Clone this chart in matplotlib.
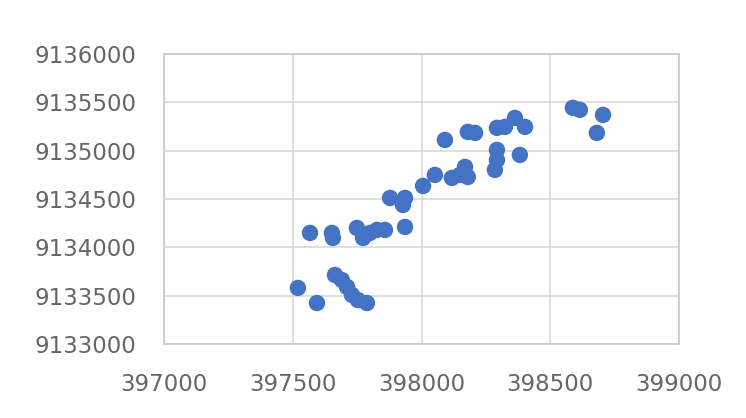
import matplotlib
matplotlib.use("Agg")
import matplotlib.pyplot as plt

x_vals = [397520, 397594, 397567, 397652, 397656, 397664, 397691, 397711, 397730, 397753,
          397788, 397749, 397773, 397800, 397827, 397858, 397878, 397936, 397928, 397936,
          398006, 398052, 398091, 398118, 398149, 398169, 398180, 398180, 398208, 398293,
          398324, 398363, 398402, 398293, 398293, 398285, 398382, 398588, 398615, 398705,
          398681]
y_vals = [9133580, 9133424, 9134149, 9134149, 9134097, 9133714, 9133662, 9133590, 9133507, 9133455,
          9133424, 9134201, 9134097, 9134149, 9134180, 9134180, 9134511, 9134511, 9134439, 9134211,
          9134635, 9134749, 9135111, 9134718, 9134749, 9134832, 9134728, 9135194, 9135184, 9135236,
          9135246, 9135339, 9135246, 9135008, 9134904, 9134801, 9134956, 9135443, 9135422, 9135370,
          9135184]
x_ticks = [397000, 397500, 398000, 398500, 399000]
y_ticks = [9133000, 9133500, 9134000, 9134500, 9135000, 9135500, 9136000]

plt.rcParams['font.family'] = ['DejaVu Sans']

fig = plt.figure(figsize=(7.46, 4.18), dpi=100)
ax = fig.add_axes([164/746, (418-344)/418, (679-164)/746, (344-54)/418])

ax.scatter(x_vals, y_vals, s=140, color='#4472C4', edgecolors='none', zorder=3)

ax.set_xlim(x_ticks[0], x_ticks[-1])
ax.set_ylim(y_ticks[0], y_ticks[-1])
ax.set_xticks(x_ticks)
ax.set_yticks(y_ticks)
ax.set_xticklabels([str(v) for v in x_ticks])
ax.set_yticklabels([str(v) for v in y_ticks])
ax.grid(True, color='#d9d9d9', linewidth=1.2, zorder=0)
ax.set_axisbelow(True)
for s in ax.spines.values():
    s.set_color('#c8c8c8')
    s.set_linewidth(1.2)
ax.tick_params(axis='both', length=0, labelsize=16.5, labelcolor='#666666')
ax.tick_params(axis='y', pad=20)
ax.tick_params(axis='x', pad=21)

fig.savefig('out.png', dpi=100)
